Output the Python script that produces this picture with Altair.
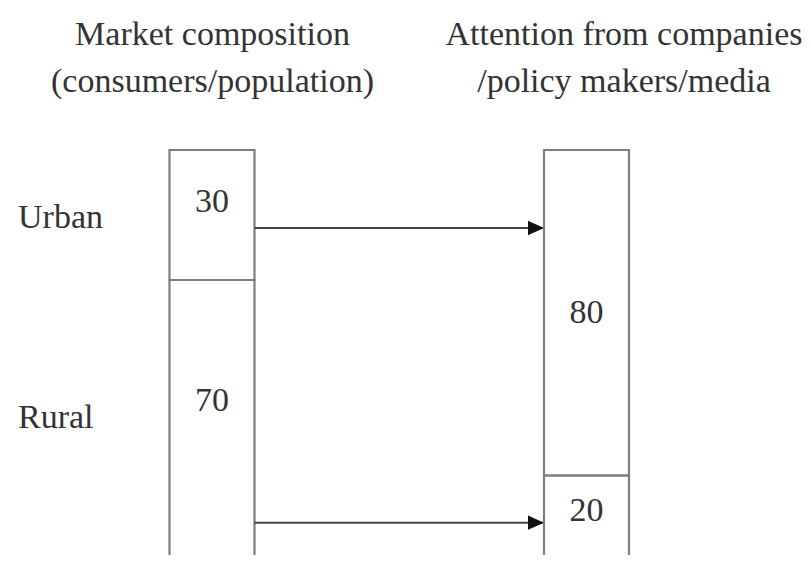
import json
import altair as alt
import pandas as pd

# ---- data ----
SEGMENTS = ["Urban", "Rural"]
MARKET = [30, 70]          # market composition (consumers/population)
ATTENTION = [80, 20]       # attention from companies/policy makers/media
TITLE_MARKET = ["Market composition", "(consumers/population)"]
TITLE_ATTENTION = ["Attention from companies", "/policy makers/media"]

# ---- layout / style constants ----
W, H, PAD_TOP = 795, 442, 105
BOX_TOP = 37              # px below plot top where boxes start
K_LEFT, K_RIGHT = 4.333, 4.07   # px per percentage point in each column
COL0, COL_STEP = 204.0, 374.5   # px of first column centre, px between columns
HW = 42.5 / COL_STEP            # half box width in column units
VAL_FRAC = {0: [0.4, 0.4], 1: [0.5, 0.43]}   # where value labels sit inside a segment
CAT_FRAC = [0.52, 0.455]
ARROW_FRAC = [0.6, 0.8]
FONT = "Liberation Serif"
TXT = "#333333"
BOX = "#7f7f7f"

XMIN = -COL0 / COL_STEP
XMAX = (W - COL0) / COL_STEP


def stacked(values, col):
    rows, start = [], 0
    for i, (s, v) in enumerate(zip(SEGMENTS, values)):
        rows.append(dict(seg=s, value=v, start=start, end=start + v, col=col,
                         x0=col - HW, x1=col + HW,
                         lab_y=start + VAL_FRAC[col][i] * v,
                         cat_y=start + CAT_FRAC[i] * v,
                         arrow_y=start + ARROW_FRAC[i] * v,
                         lab_x=XMIN, label=str(v)))
        start += v
    return pd.DataFrame(rows)


left_df = stacked(MARKET, 0)
right_df = stacked(ATTENTION, 1)
left_df["ax0"] = 0 + HW
left_df["ax1"] = 1 - HW

xs = alt.Scale(domain=[XMIN, XMAX], nice=False, zero=False)
label_expr = "datum.value == 0 ? %s : %s" % (json.dumps(TITLE_MARKET), json.dumps(TITLE_ATTENTION))
xaxis = alt.Axis(orient="top", values=[0, 1], labelExpr=label_expr, ticks=False, domain=False,
                 grid=False, title=None, labelFont=FONT, labelFontSize=34, labelColor=TXT,
                 labelPadding=62, labelLineHeight=47, labelFlush=False, labelOverlap=False,
                 labelBound=False, labelLimit=0,
                 labelOffset={"condition": {"test": "datum.value == 1", "value": 37}, "value": 0})


def X(f):
    return alt.X(f, type="quantitative", scale=xs, axis=xaxis)


def yscale(k):
    d0 = -BOX_TOP / k
    return alt.Scale(domain=[d0, d0 + H / k], reverse=True, nice=False, zero=False)


yl, yr = yscale(K_LEFT), yscale(K_RIGHT)


def Y(f, sc):
    return alt.Y(f, type="quantitative", scale=sc, axis=None)


def boxes(df, sc):
    return alt.Chart(df).mark_rect(fill="white", stroke=BOX, strokeWidth=2.2, clip=True).encode(
        x=X("x0"), x2="x1", y=Y("start", sc), y2="end")


def values(df, sc):
    return alt.Chart(df).mark_text(font=FONT, fontSize=34, color=TXT, baseline="middle").encode(
        x=X("col"), y=Y("lab_y", sc), text="label:N")


cats = alt.Chart(left_df).mark_text(font=FONT, fontSize=34, color=TXT, align="left",
                                    baseline="middle", dx=10).encode(
    x=X("lab_x"), y=Y("cat_y", yl), text="seg:N")

arrows = alt.Chart(left_df).mark_rule(color="#444444", strokeWidth=2).encode(
    x=X("ax0"), x2="ax1", y=Y("arrow_y", yl))

heads = alt.Chart(left_df).mark_point(shape="M-2,-0.9L0,0L-2,0.9Z", filled=True, fill="#111111",
                                      stroke=None, opacity=1, size=256).encode(
    x=X("ax1"), y=Y("arrow_y", yl))

left = alt.layer(boxes(left_df, yl), values(left_df, yl), cats, arrows, heads)
right = alt.layer(boxes(right_df, yr), values(right_df, yr))

chart = alt.layer(left, right).resolve_scale(y="independent").properties(
    width=W, height=H, autosize=alt.AutoSizeParams(type="none"),
    padding={"left": 0, "top": PAD_TOP, "right": 0, "bottom": 0},
    background="white",
).configure_view(strokeWidth=0)

chart.save("out.html", embed_options={"renderer": "svg", "actions": False})
